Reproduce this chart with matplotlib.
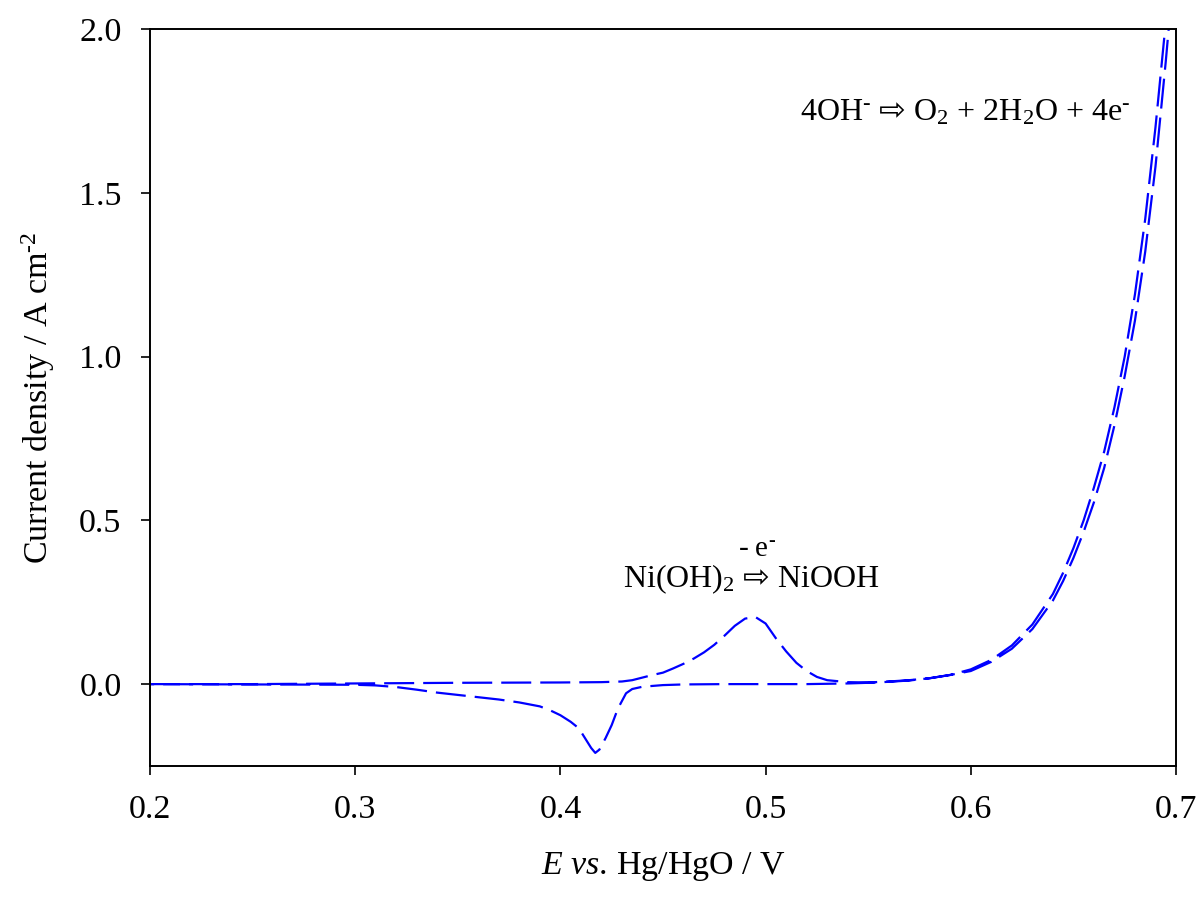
import matplotlib
matplotlib.use("Agg")
import matplotlib.pyplot as plt

plt.rcParams['font.family'] = ['Liberation Serif', 'DejaVu Sans']
plt.rcParams['mathtext.fontset'] = 'custom'
plt.rcParams['mathtext.rm'] = 'Liberation Serif'
plt.rcParams['mathtext.it'] = 'Liberation Serif:italic'
plt.rcParams['mathtext.sf'] = 'DejaVu Sans'
plt.rcParams['mathtext.default'] = 'regular'
plt.rcParams['lines.scale_dashes'] = False

# Anodic sweep, 0.2 V -> 0.7 V
E_fwd = [0.200, 0.250, 0.300, 0.350, 0.400, 0.420, 0.430, 0.435, 0.440, 0.445,
         0.450, 0.455, 0.460, 0.465, 0.470, 0.475, 0.480, 0.485, 0.490, 0.495,
         0.500, 0.505, 0.510, 0.515, 0.520, 0.525, 0.530, 0.540, 0.550, 0.560,
         0.570, 0.580, 0.590, 0.600, 0.610, 0.620, 0.630, 0.640, 0.645, 0.650,
         0.655, 0.660, 0.665, 0.670, 0.675, 0.680, 0.685, 0.690, 0.695, 0.700]
j_fwd = [0.000, 0.000, 0.002, 0.004, 0.005, 0.006, 0.008, 0.012, 0.020, 0.028,
         0.035, 0.048, 0.062, 0.078, 0.097, 0.120, 0.148, 0.178, 0.200, 0.205,
         0.185, 0.140, 0.100, 0.065, 0.040, 0.022, 0.012, 0.006, 0.005, 0.008,
         0.012, 0.018, 0.028, 0.040, 0.068, 0.108, 0.168, 0.255, 0.315, 0.385,
         0.465, 0.555, 0.660, 0.790, 0.940, 1.110, 1.320, 1.580, 1.900, 2.250]

# Cathodic sweep, 0.7 V -> 0.2 V
E_rev = [0.700, 0.695, 0.690, 0.685, 0.680, 0.675, 0.670, 0.665, 0.660, 0.655,
         0.650, 0.645, 0.640, 0.630, 0.620, 0.610, 0.600, 0.590, 0.580, 0.570,
         0.560, 0.550, 0.540, 0.530, 0.520, 0.500, 0.480, 0.460, 0.450, 0.440,
         0.435, 0.432, 0.428, 0.425, 0.422, 0.419, 0.417, 0.415, 0.412, 0.409,
         0.405, 0.400, 0.395, 0.390, 0.380, 0.370, 0.360, 0.350, 0.340, 0.330,
         0.320, 0.310, 0.300, 0.250, 0.200]
j_rev = [2.250, 2.020, 1.700, 1.420, 1.190, 1.000, 0.845, 0.710, 0.600, 0.500,
         0.415, 0.340, 0.275, 0.182, 0.118, 0.074, 0.045, 0.028, 0.018, 0.011,
         0.007, 0.004, 0.002, 0.001, 0.000, 0.000, 0.000, -0.001, -0.003, -0.008,
         -0.015, -0.028, -0.075, -0.125, -0.165, -0.200, -0.210, -0.195, -0.165, -0.135,
         -0.115, -0.095, -0.080, -0.068, -0.056, -0.047, -0.040, -0.033, -0.026, -0.017,
         -0.009, -0.004, -0.002, -0.001, 0.000]

x_ticks = [0.2, 0.3, 0.4, 0.5, 0.6, 0.7]
y_ticks = [0.0, 0.5, 1.0, 1.5, 2.0]

HY = '\u2010'  # short hyphen used for the charge superscripts

fig = plt.figure(figsize=(12.03, 8.99), dpi=100)
ax = fig.add_axes([150 / 1203, 1 - 766 / 899, 1026 / 1203, 737 / 899])

ax.plot(E_fwd + E_rev, j_fwd + j_rev, color='#0000ff', lw=1.6,
        linestyle=(0, (21.6, 6.5)))

ax.set_xlim(0.2, 0.7)
ax.set_ylim(-0.25, 2.0)
ax.set_xticks(x_ticks)
ax.set_yticks(y_ticks)
ax.set_xticklabels([f'{v:.1f}' for v in x_ticks])
ax.set_yticklabels([f'{v:.1f}' for v in y_ticks])
ax.tick_params(direction='out', length=6.5, width=1.2, pad=14,
               labelsize=24.5, top=False, right=False)
for sp in ax.spines.values():
    sp.set_linewidth(1.4)

ax.set_xlabel(r'$\mathit{E\ vs.}\,$Hg/HgO / V', fontsize=24.5, labelpad=18)
ax.set_ylabel('Current density / A cm$^{' + HY + '2}$', fontsize=24.5,
              labelpad=16)

ax.text(0.5168, 1.722,
        '4OH$^{' + HY + r'}$ $\mathsf{⇨}$ O$_{2}$ + 2H$_{2}$O + 4e$^{' + HY + '}$',
        fontsize=23, ha='left', va='baseline')
ax.text(0.4307, 0.297, r'Ni(OH)$_{2}$ $\mathsf{⇨}$ NiOOH',
        fontsize=23, ha='left', va='baseline')
ax.text(0.4866, 0.389, '- e$^{' + HY + '}$', fontsize=21,
        ha='left', va='baseline')

fig.savefig('out.png', dpi=100)
